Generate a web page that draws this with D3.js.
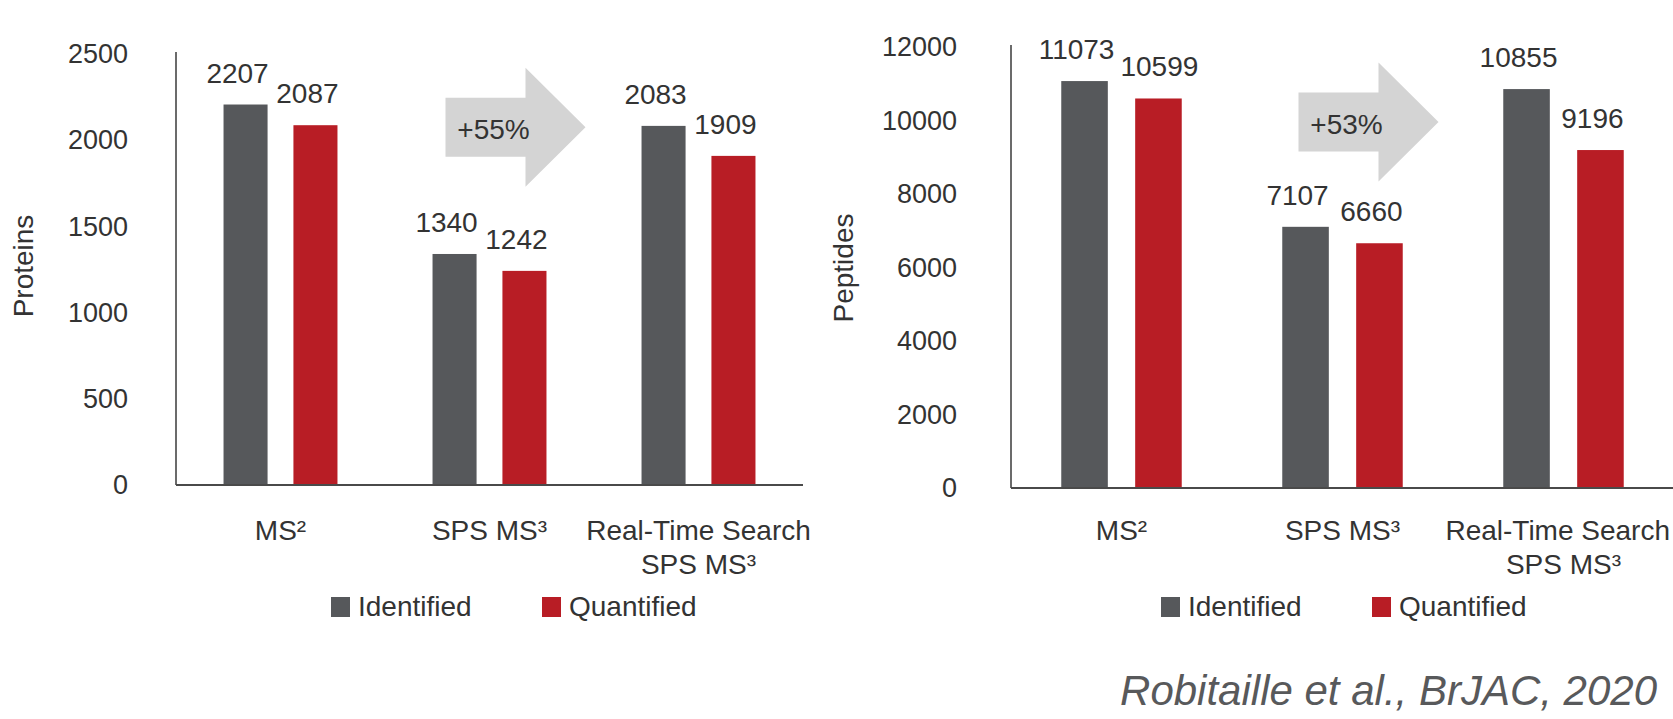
<!DOCTYPE html>
<html>
<head>
<meta charset="utf-8">
<script src="https://cdn.jsdelivr.net/npm/d3@7"></script>
<style>
  html, body { margin: 0; padding: 0; background: #ffffff; }
  svg { display: block; }
  text { font-family: "Liberation Sans", Arial, Helvetica, sans-serif; fill: #333333; }
</style>
</head>
<body>
<svg id="chart" width="1673" height="719"></svg>
<script>
// Acquisition methods compared in both panels
const categories = ["MS²", "SPS MS³", "Real-Time Search\nSPS MS³"];
const series = ["Identified", "Quantified"];

// Protein counts per method
const proteinsIdentified = [2207, 1340, 2083];
const proteinsQuantified = [2087, 1242, 1909];
const proteinTicks = [0, 500, 1000, 1500, 2000, 2500];

// Peptide counts per method
const peptidesIdentified = [11073, 7107, 10855];
const peptidesQuantified = [10599, 6660, 9196];
const peptideTicks = [0, 2000, 4000, 6000, 8000, 10000, 12000];

// Gain of Real-Time Search over plain SPS MS3
const proteinGain = "+55%";
const peptideGain = "+53%";

const colors = { Identified: "#56585b", Quantified: "#b81d25" };
const citation = "Robitaille et al., BrJAC, 2020";

const W = 1673;
const svg = d3.select("#chart");

function drawPanel(opt) {
  const g = svg.append("g");
  const rows = categories.map((c, i) => ({
    category: c,
    values: [
      { key: "Identified", value: opt.identified[i] },
      { key: "Quantified", value: opt.quantified[i] }
    ]
  }));

  const x0 = d3.scaleBand().domain(categories).range([opt.left, opt.right]).padding(0);
  const x1 = d3.scaleBand().domain(series).range([0, x0.bandwidth()])
    .paddingInner(0.37).paddingOuter(0.68);
  const y = d3.scaleLinear().domain([0, opt.max]).range([opt.bottom, opt.top]);

  // value axis: labels only, plus a plain vertical rule
  const yAxis = g.append("g")
    .attr("transform", `translate(${opt.left},0)`)
    .call(d3.axisLeft(y).tickValues(opt.ticks).tickSize(0).tickPadding(opt.tickPad)
      .tickFormat(d3.format("d")));
  yAxis.select(".domain").remove();
  yAxis.selectAll("text")
    .style("font-size", "27px")
    .style("font-family", "\"Liberation Sans\", Arial, sans-serif")
    .attr("fill", "#333333");

  g.append("line")
    .attr("x1", opt.left).attr("x2", opt.left)
    .attr("y1", y(opt.max) - 2).attr("y2", opt.bottom)
    .attr("stroke", "#3a3a3a").attr("stroke-width", 1.5);

  // bars
  const groups = g.selectAll("g.group").data(rows).join("g")
    .attr("class", "group")
    .attr("transform", d => `translate(${x0(d.category)},0)`);

  groups.selectAll("rect").data(d => d.values).join("rect")
    .attr("x", d => x1(d.key))
    .attr("width", x1.bandwidth())
    .attr("y", d => y(d.value))
    .attr("height", d => opt.bottom - y(d.value))
    .attr("fill", d => colors[d.key]);

  // value labels above bars; nudge the second one right if it collides with the first
  groups.each(function () {
    const labels = d3.select(this).selectAll("text.value").data(d => d.values).join("text")
      .attr("class", "value")
      .attr("x", d => x1(d.key) + x1.bandwidth() / 2 - 8)
      .attr("y", d => y(d.value) - 22)
      .attr("text-anchor", "middle")
      .style("font-size", "28px")
      .text(d => d.value);
    const nodes = labels.nodes();
    const a = nodes[0].getBBox(), b = nodes[1].getBBox();
    const overlapX = b.x < a.x + a.width + 3;
    const overlapY = b.y < a.y + a.height && a.y < b.y + b.height;
    if (overlapX && overlapY) {
      const shift = a.x + a.width + 6 - b.x;
      d3.select(nodes[1]).attr("x", +d3.select(nodes[1]).attr("x") + shift);
    }
  });

  // baseline
  g.append("line")
    .attr("x1", opt.left).attr("x2", opt.right)
    .attr("y1", opt.bottom).attr("y2", opt.bottom)
    .attr("stroke", "#4a4a4a").attr("stroke-width", 2);

  // category labels (multi-line where needed), kept inside the drawing width
  categories.forEach(c => {
    const cx = x0(c) + x0.bandwidth() / 2;
    const t = g.append("text")
      .attr("y", 540)
      .attr("text-anchor", "middle")
      .style("font-size", "28px");
    const lines = c.split("\n");
    lines.forEach((line, i) => {
      t.append("tspan")
        .attr("x", cx)
        .attr("dy", i === 0 ? 0 : 34)
        .text(line);
    });
    const box = t.node().getBBox();
    const over = box.x + box.width - (W - 3);
    if (over > 0) {
      t.selectAll("tspan").attr("x", function () { return +d3.select(this).attr("x") - over; });
      // second line stays centred under the group
      t.selectAll("tspan").filter((d, i) => i > 0).attr("x", cx);
    }
  });

  // axis title
  g.append("text")
    .attr("transform", `translate(${opt.titleX},${opt.titleY}) rotate(-90)`)
    .attr("text-anchor", "middle")
    .style("font-size", "28px")
    .text(opt.title);

  // improvement arrow between SPS MS3 and Real-Time Search
  const sps = categories[1];
  const ax = x0(sps) + x0.bandwidth() / 2 - 44;
  const ay = y(opt.max * 0.83);
  const shaftLen = 80, headLen = 60, shaftH = 59, headH = 119;
  const p = d3.path();
  p.moveTo(ax, ay - shaftH / 2);
  p.lineTo(ax + shaftLen, ay - shaftH / 2);
  p.lineTo(ax + shaftLen, ay - headH / 2);
  p.lineTo(ax + shaftLen + headLen, ay);
  p.lineTo(ax + shaftLen, ay + headH / 2);
  p.lineTo(ax + shaftLen, ay + shaftH / 2);
  p.lineTo(ax, ay + shaftH / 2);
  p.closePath();
  g.append("path").attr("d", p.toString()).attr("fill", "#d4d4d4");
  g.append("text")
    .attr("x", ax + 48).attr("y", ay + 12)
    .attr("text-anchor", "middle")
    .style("font-size", "28px")
    .text(opt.gain);

  // legend
  series.forEach((s, i) => {
    const lx = opt.legendX + i * 211;
    g.append("rect")
      .attr("x", lx).attr("y", 597)
      .attr("width", 19).attr("height", 20)
      .attr("fill", colors[s]);
    g.append("text")
      .attr("x", lx + 27).attr("y", 616)
      .style("font-size", "28px")
      .text(s);
  });
}

drawPanel({
  identified: proteinsIdentified, quantified: proteinsQuantified,
  ticks: proteinTicks, max: 2500, gain: proteinGain, title: "Proteins",
  left: 176, right: 803, top: 54, bottom: 485, tickPad: 48,
  titleX: 33, titleY: 266, legendX: 331
});

drawPanel({
  identified: peptidesIdentified, quantified: peptidesQuantified,
  ticks: peptideTicks, max: 12000, gain: peptideGain, title: "Peptides",
  left: 1011, right: 1674, top: 47, bottom: 488, tickPad: 54,
  titleX: 853, titleY: 268, legendX: 1161
});

svg.append("text")
  .attr("x", 1657).attr("y", 705)
  .attr("text-anchor", "end")
  .style("font-size", "42px")
  .style("font-style", "italic")
  .style("fill", "#58595b")
  .text(citation);
</script>
</body>
</html>
